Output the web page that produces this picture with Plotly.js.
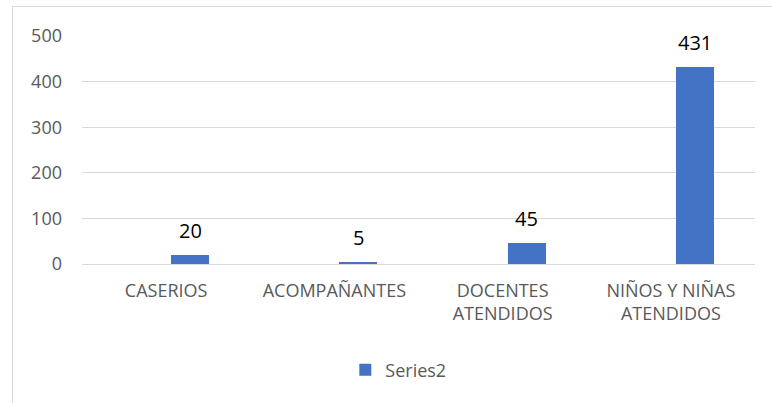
<!DOCTYPE html>
<html>
<head>
<meta charset="utf-8">
<script src="https://cdn.plot.ly/plotly-3.0.1.min.js"></script>
<style>
html,body{margin:0;padding:0;background:#fff;overflow:hidden;}
#chart{width:772px;height:403px;position:absolute;left:0;top:0;}
#frame{position:absolute;left:12px;top:6px;width:900px;height:600px;border:1px solid #d9d9d9;pointer-events:none;}
</style>
</head>
<body>
<div id="chart"></div>
<div id="frame"></div>
<script>
const categories = ["CASERIOS", "ACOMPAÑANTES", "DOCENTES<br>ATENDIDOS", "NIÑOS Y NIÑAS<br>ATENDIDOS"];
const series2 = [20, 5, 45, 431];
const seriesName = "Series2";
const yTicks = [0, 100, 200, 300, 400, 500];

const font = "Open Sans, Noto Sans, sans-serif";

const trace = {
  type: "bar",
  x: categories,
  y: series2,
  name: seriesName,
  marker: {color: "#4472C4"},
  width: 0.226,
  offset: 0.03,
  hoverinfo: "none",
  showlegend: true
};

const annotations = categories.map((c, i) => ({
  x: c, y: series2[i], xref: "x", yref: "y",
  text: String(series2[i]),
  showarrow: false,
  yanchor: "bottom",
  xshift: 24,
  yshift: 9,
  font: {family: font, size: 20, color: "#000000"}
}));

const layout = {
  width: 772, height: 403,
  margin: {l: 82, r: 17, t: 36, b: 139},
  paper_bgcolor: "rgba(0,0,0,0)",
  plot_bgcolor: "#ffffff",
  bargap: 0,
  xaxis: {
    type: "category",
    showgrid: false,
    showline: false,
    zeroline: false,
    ticks: "",
    automargin: false,
    ticklabelstandoff: 14,
    tickfont: {family: font, size: 18, color: "#595959"}
  },
  yaxis: {
    range: [0, 500],
    tickvals: yTicks,
    showgrid: true,
    gridcolor: "#d9d9d9",
    gridwidth: 1,
    zeroline: true,
    zerolinecolor: "#d9d9d9",
    zerolinewidth: 1,
    showline: false,
    ticks: "",
    automargin: false,
    ticklabelstandoff: 19,
    tickfont: {family: font, size: 18, color: "#595959"}
  },
  legend: {
    orientation: "h",
    x: 0.47, xanchor: "center",
    y: -0.465, yanchor: "middle",
    font: {family: font, size: 18, color: "#595959"},
    itemwidth: 30
  },
  annotations: annotations
};

Plotly.newPlot("chart", [trace], layout, {displayModeBar: false, staticPlot: true});
</script>
</body>
</html>
